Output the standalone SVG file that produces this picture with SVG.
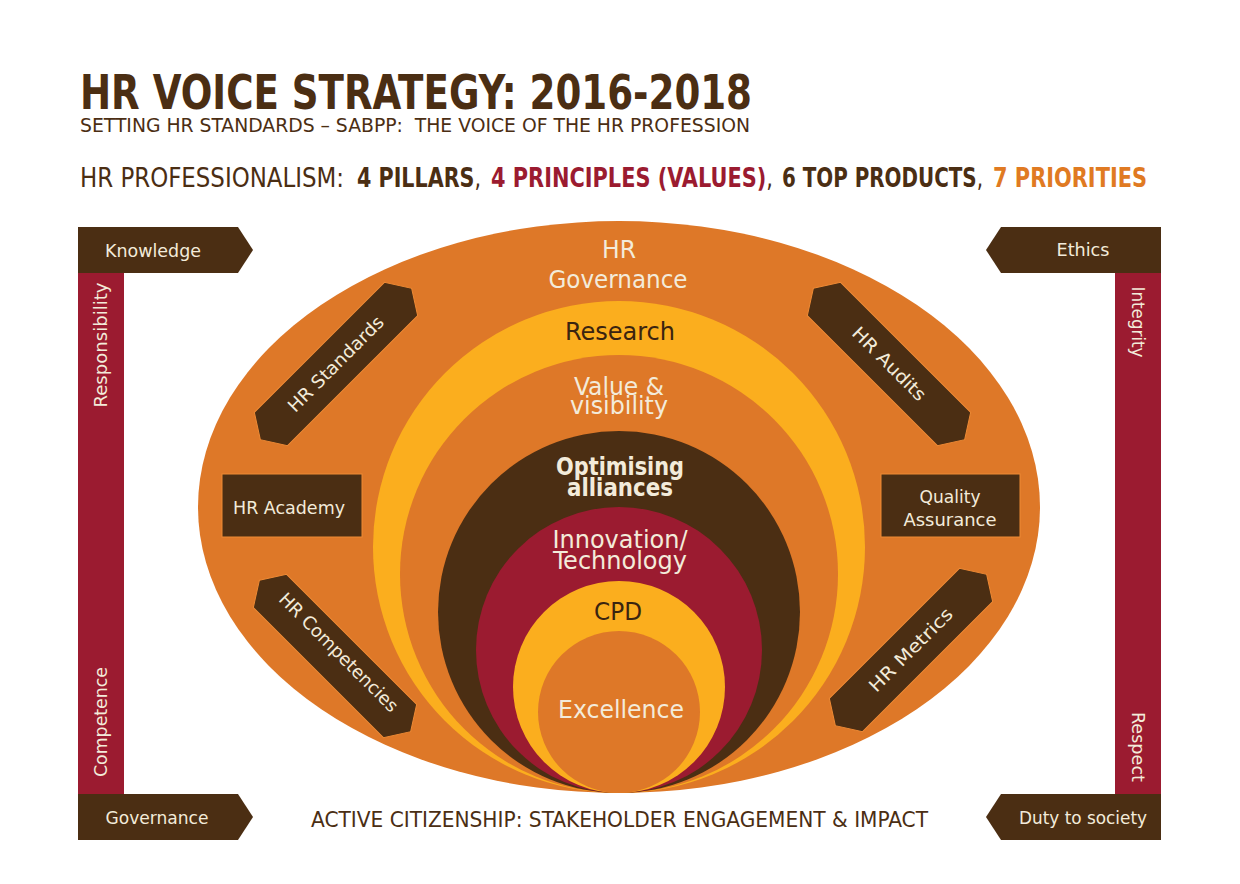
<svg xmlns="http://www.w3.org/2000/svg" width="1240" height="884" viewBox="0 0 1240 884">
<style>
text{font-family:"DejaVu Sans Condensed","Roboto","Liberation Sans",sans-serif;}
.brown{fill:#4B2E13;}
.crimson{fill:#9B1B30;}
.orange{fill:#DE7828;}
.yellow{fill:#FBAE1E;}
.lbl{fill:#F3EBDA;font-size:18px;text-anchor:middle;}
.ctr{fill:#F3EBDA;font-size:24px;text-anchor:middle;}
.dark{fill:#3A2410;font-size:24px;text-anchor:middle;}
.hex{fill:#4B2E13;stroke:#EE8A35;stroke-width:1;}
.head{font-size:26px;fill:#4B2E13;}
.hb{font-size:26px;font-weight:bold;}
.cm{font-weight:normal;fill:#4B2E13;}
</style>
<defs>
<polygon id="hexshape" points="-107,0 -92,-23.5 92,-23.5 107,0 92,23.5 -92,23.5"/>
</defs>
<rect width="1240" height="884" fill="#FFFFFF"/>

<g id="title">
<text x="80" y="109" font-size="48" font-weight="bold" fill="#4B2E13" textLength="672" lengthAdjust="spacingAndGlyphs">HR VOICE STRATEGY: 2016-2018</text>
<text x="80" y="132" font-size="19" fill="#4B2E13" textLength="670" lengthAdjust="spacingAndGlyphs" xml:space="preserve">SETTING HR STANDARDS – SABPP:  THE VOICE OF THE HR PROFESSION</text>
</g>
<g id="headline">
<text class="head" x="80" y="187" textLength="264" lengthAdjust="spacingAndGlyphs">HR PROFESSIONALISM:</text>
<text class="hb" x="357" y="187" fill="#4B2E13" textLength="124" lengthAdjust="spacingAndGlyphs">4 PILLARS<tspan class="cm">,</tspan></text>
<text class="hb" x="491" y="187" fill="#9B1B30" textLength="282" lengthAdjust="spacingAndGlyphs">4 PRINCIPLES (VALUES)<tspan class="cm">,</tspan></text>
<text class="hb" x="782" y="187" fill="#4B2E13" textLength="201" lengthAdjust="spacingAndGlyphs">6 TOP PRODUCTS<tspan class="cm">,</tspan></text>
<text class="hb" x="993" y="187" fill="#E07A22" textLength="154" lengthAdjust="spacingAndGlyphs">7 PRIORITIES</text>
</g>

<g id="hr-governance">
<ellipse cx="619" cy="507" rx="421" ry="286" class="orange"/>
<text class="ctr" x="619" y="258" textLength="34" lengthAdjust="spacingAndGlyphs">HR</text>
<text class="ctr" x="618" y="288" textLength="139" lengthAdjust="spacingAndGlyphs">Governance</text>
</g>
<g id="research">
<circle cx="619" cy="547" r="246" class="yellow"/>
<text class="dark" x="620" y="340" textLength="110" lengthAdjust="spacingAndGlyphs">Research</text>
</g>
<g id="value-visibility">
<circle cx="619" cy="574" r="219" class="orange"/>
<text class="ctr" x="619" y="395" textLength="90" lengthAdjust="spacingAndGlyphs">Value &amp;</text>
<text class="ctr" x="619" y="414" textLength="98" lengthAdjust="spacingAndGlyphs">visibility</text>
</g>
<g id="optimising-alliances">
<circle cx="619" cy="612" r="181" class="brown"/>
<text class="ctr" x="620" y="475" font-weight="bold" textLength="128" lengthAdjust="spacingAndGlyphs">Optimising</text>
<text class="ctr" x="620" y="496" font-weight="bold" textLength="106" lengthAdjust="spacingAndGlyphs">alliances</text>
</g>
<g id="innovation-technology">
<circle cx="619" cy="650" r="143" class="crimson"/>
<text class="ctr" x="620" y="548" textLength="135" lengthAdjust="spacingAndGlyphs">Innovation/</text>
<text class="ctr" x="620" y="569" textLength="134" lengthAdjust="spacingAndGlyphs">Technology</text>
</g>
<g id="cpd">
<circle cx="619" cy="687" r="106" class="yellow"/>
<text class="dark" x="618" y="620" textLength="48" lengthAdjust="spacingAndGlyphs">CPD</text>
</g>
<g id="excellence">
<circle cx="619" cy="712" r="81" class="orange"/>
<text class="ctr" x="621" y="718" textLength="126" lengthAdjust="spacingAndGlyphs">Excellence</text>
</g>

<g id="hr-standards" transform="translate(336,364) rotate(-45)">
<use href="#hexshape" class="hex"/>
<text class="lbl" x="0" y="6" textLength="127" lengthAdjust="spacingAndGlyphs">HR Standards</text>
</g>
<g id="hr-audits" transform="translate(889,364) rotate(45)">
<use href="#hexshape" class="hex"/>
<text class="lbl" x="0" y="6" textLength="96" lengthAdjust="spacingAndGlyphs">HR Audits</text>
</g>
<g id="hr-competencies" transform="translate(335,656) rotate(45)">
<use href="#hexshape" class="hex"/>
<text class="lbl" x="0" y="1" textLength="160" lengthAdjust="spacingAndGlyphs">HR Competencies</text>
</g>
<g id="hr-metrics" transform="translate(911,650) rotate(-45)">
<use href="#hexshape" class="hex"/>
<text class="lbl" x="0" y="6" textLength="110" lengthAdjust="spacingAndGlyphs">HR Metrics</text>
</g>

<g id="hr-academy">
<rect x="222" y="474" width="140" height="63" class="hex"/>
<text class="lbl" x="289" y="514" textLength="112" lengthAdjust="spacingAndGlyphs">HR Academy</text>
</g>
<g id="quality-assurance">
<rect x="881" y="474" width="139" height="63" class="hex"/>
<text class="lbl" x="950" y="503" textLength="61" lengthAdjust="spacingAndGlyphs">Quality</text>
<text class="lbl" x="950" y="526" textLength="93" lengthAdjust="spacingAndGlyphs">Assurance</text>
</g>

<g id="left-pillar">
<rect x="78" y="273" width="46" height="521" class="crimson"/>
<text class="lbl" transform="translate(107,345) rotate(-90)" x="0" y="0" textLength="125" lengthAdjust="spacingAndGlyphs">Responsibility</text>
<text class="lbl" transform="translate(107,722) rotate(-90)" x="0" y="0" textLength="110" lengthAdjust="spacingAndGlyphs">Competence</text>
</g>
<g id="knowledge">
<polygon points="78,227 238,227 253,250 238,273 78,273" class="brown"/>
<text class="lbl" x="153" y="257" textLength="96" lengthAdjust="spacingAndGlyphs">Knowledge</text>
</g>
<g id="governance">
<polygon points="78,794 238,794 253,817 238,840 78,840" class="brown"/>
<text class="lbl" x="157" y="824" textLength="103" lengthAdjust="spacingAndGlyphs">Governance</text>
</g>

<g id="right-pillar">
<rect x="1115" y="273" width="46" height="521" class="crimson"/>
<text class="lbl" transform="translate(1132,322) rotate(90)" x="0" y="0" textLength="71" lengthAdjust="spacingAndGlyphs">Integrity</text>
<text class="lbl" transform="translate(1132,747) rotate(90)" x="0" y="0" textLength="70" lengthAdjust="spacingAndGlyphs">Respect</text>
</g>
<g id="ethics">
<polygon points="1161,227 1001,227 986,250 1001,273 1161,273" class="brown"/>
<text class="lbl" x="1083" y="256" textLength="53" lengthAdjust="spacingAndGlyphs">Ethics</text>
</g>
<g id="duty-to-society">
<polygon points="1161,794 1001,794 986,817 1001,840 1161,840" class="brown"/>
<text class="lbl" x="1083" y="824" textLength="128" lengthAdjust="spacingAndGlyphs">Duty to society</text>
</g>

<g id="active-citizenship">
<text x="311" y="827" font-size="21" fill="#4B2E13" textLength="617" lengthAdjust="spacingAndGlyphs">ACTIVE CITIZENSHIP: STAKEHOLDER ENGAGEMENT &amp; IMPACT</text>
</g>
<g id="connectors"></g>
</svg>
